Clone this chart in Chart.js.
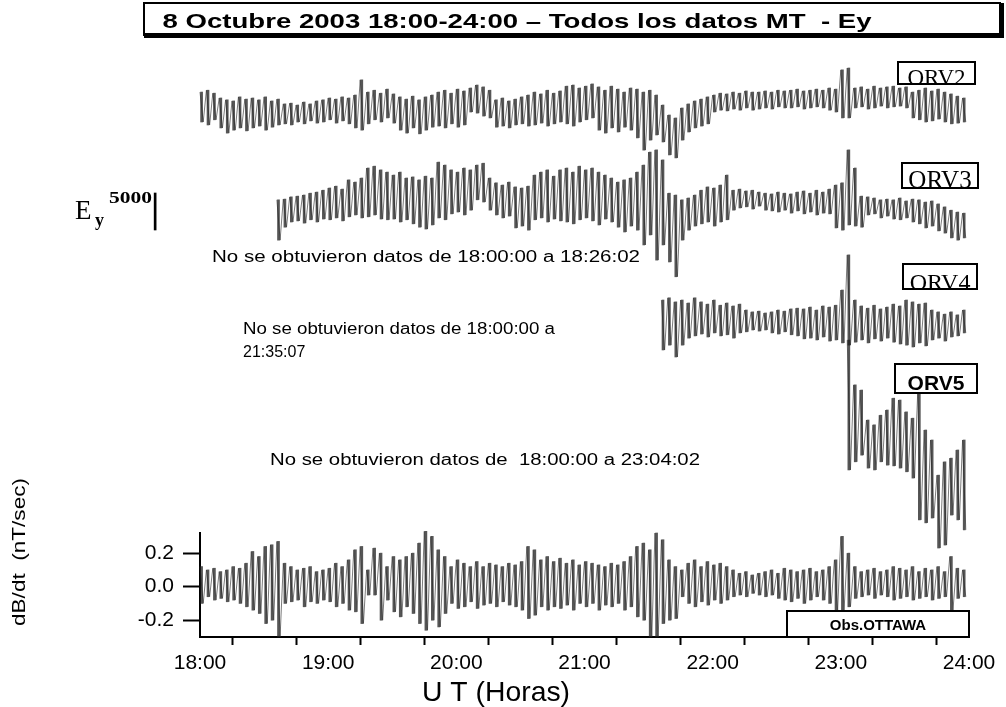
<!DOCTYPE html>
<html>
<head>
<meta charset="utf-8">
<script src="https://cdn.jsdelivr.net/npm/chart.js@4.4.1/dist/chart.umd.min.js"></script>
<style>
  body { margin: 0; background: #fff; }
  canvas { display: block; }
</style>
</head>
<body>
<canvas id="grafik" width="1006" height="707"></canvas>
<script>
// Datos: envolvente (maximo / minimo) cada 3 minutos desde las 18:00
const binHours = 0.05;
const hourTicks = [18, 18.5, 19, 19.5, 20, 20.5, 21, 21.5, 22, 22.5, 23, 23.5, 24];
const dbdtTicks = [-0.2, 0, 0.2];
const stations = ["ORV2", "ORV3", "ORV4", "ORV5"];
const startBin = { ORV2: 0, ORV3: 12, ORV4: 72, ORV5: 101, dbdt: 0 };

// Ey (mV/km)
const orv2Hi = [1750,2000,1600,950,700,550,1100,800,950,700,
  1100,550,800,150,250,0,400,150,550,700,
  950,800,1100,950,1350,3400,1750,2000,1600,2150,
  1500,1100,800,1200,700,1100,1350,1750,2000,1600,
  2150,1900,2300,2700,2450,2000,700,950,550,800,
  1100,1350,1750,1500,2000,1600,1900,2550,2700,2300,
  2550,2850,2450,2000,2550,2150,1750,2300,2150,1750,
  2000,1350,0,-1350,-1750,-400,150,550,800,1100,
  1350,1600,1500,1750,1600,1900,1750,1750,1900,1750,
  2000,1900,2000,2150,1900,2000,2150,2000,2300,2150,
  4750,5000,2300,2450,2150,2550,2300,2450,2550,2300,
  2450,1750,2000,2300,1900,2150,1750,1500,1200,950];
const orv2Lo = [-2300,-2700,-2000,-3100,-3800,-3400,-3100,-3500,-3100,-2850,
  -3400,-3000,-2700,-2550,-2700,-2300,-2550,-2150,-2450,-2300,
  -2000,-2450,-2150,-2550,-3100,-3400,-2550,-2000,-2300,-1750,
  -2450,-3400,-3800,-3100,-3900,-3400,-3000,-2850,-3100,-2550,
  -3000,-2700,-950,-1100,-1500,-1750,-3000,-2850,-3100,-2700,
  -2550,-2850,-2700,-2450,-2850,-2550,-2300,-2550,-2850,-2300,
  -2000,-1750,-3400,-3800,-3100,-3650,-3000,-3400,-4450,-6100,
  -4750,-4050,-5000,-6750,-7150,-4750,-3650,-3100,-2850,-2550,
  -950,-700,-800,-550,-700,-400,-700,-550,-400,-550,
  -250,-400,-400,-250,-550,-400,-250,-400,-700,-950,
  -1750,-1750,-400,-250,-550,-400,-150,-400,-250,-150,
  -400,-1750,-2000,-2300,-2150,-1900,-2300,-2550,-2450,-2300];

const orv3Hi = [700,800,1100,1200,1350,1600,1750,2000,2300,2550,
  2150,3400,3100,3650,5000,5250,4750,4450,4050,4450,
  3650,3800,3400,3900,3650,5800,5400,4750,4450,5000,
  4750,5400,5650,3650,3000,2700,3100,2450,2300,2550,
  4050,4450,4750,3900,4750,5000,4450,5250,4750,5000,
  4450,4050,3650,3100,3400,3650,4450,5400,7150,7450,
  6100,1600,1350,700,950,1350,2000,2450,2300,2700,
  4050,2000,2150,1900,2000,1750,1600,1500,1750,1600,
  1500,1750,1900,1600,2000,1750,2150,2700,3000,7450,
  5000,1200,1100,950,700,800,700,950,550,800,
  700,400,550,150,-250,-700,-950,-1100];
const orv3Lo = [-4750,-3000,-2300,-2150,-2450,-2000,-2300,-1900,-2000,-1750,
  -2150,-1600,-1350,-1750,-1600,-1350,-1900,-2000,-1900,-2300,
  -2000,-2550,-3000,-3250,-2700,-1750,-2000,-1200,-950,-1350,
  -700,700,400,-700,-1350,-1750,-1500,-3100,-2850,-3400,
  -2000,-1750,-2300,-1900,-2150,-2300,-2550,-2000,-1750,-2150,
  -2700,-1900,-2300,-3000,-3650,-2850,-3400,-5400,-4050,-7450,
  -5400,-7700,-9700,-4750,-3400,-2850,-2550,-2300,-2850,-2300,
  -2000,-700,-400,-250,-550,-150,-700,-800,-950,-700,
  -1100,-800,-1200,-950,-1350,-1100,-1200,-3100,-3400,-2700,
  -2850,-3000,-1350,-1200,-1750,-1500,-1900,-2000,-1750,-2300,
  -2550,-3100,-2850,-3500,-3800,-4450,-4750,-4450];

const orv4Hi = [2700,3000,2450,2700,2300,3000,2450,2150,2700,2000,
  2300,1900,2150,1350,1100,1200,950,1100,1350,1200,
  1500,1600,1500,1750,1350,1900,1750,2000,4050,8800,
  2700,1900,1600,2000,1500,1750,2150,1900,2700,2450,
  2150,2300,1350,1100,800,1100,700,1350];
const orv4Lo = [-4050,-3400,-5000,-3400,-2450,-2150,-1900,-2300,-1750,-2150,
  -2000,-2450,-1750,-1600,-1350,-1500,-1350,-1750,-1900,-1600,
  -2000,-2150,-2550,-2450,-2700,-2300,-2850,-2700,-3100,-3400,
  -3000,-2700,-3100,-2550,-2850,-2450,-3000,-3250,-3400,-3650,
  -3100,-3500,-2700,-2450,-2850,-2300,-2150,-1750];

const orv5Hi = [12150,6100,5400,1350,700,2000,2700,4300,4050,2450,
  1600,5150,0,-1350,-6100,-4300,-3800,-2700,-1350];
const orv5Lo = [-5400,-4300,-3400,-5150,-5400,-4300,-4750,-4850,-5150,-5650,
  -6500,-12150,-12550,-11900,-15950,-15550,-11500,-12150,-13500];

// dB/dt Obs. Ottawa (nT/sec)
const dbdtHi = [0.12,0.10,0.11,0.09,0.10,0.12,0.11,0.14,0.21,0.18,
  0.24,0.25,0.27,0.14,0.12,0.10,0.11,0.12,0.09,0.10,
  0.11,0.14,0.12,0.16,0.22,0.24,0.10,0.23,0.20,0.12,
  0.18,0.16,0.18,0.20,0.26,0.33,0.30,0.22,0.18,0.12,
  0.16,0.14,0.12,0.15,0.12,0.14,0.13,0.12,0.14,0.13,
  0.15,0.24,0.22,0.16,0.18,0.15,0.17,0.14,0.16,0.13,
  0.15,0.14,0.13,0.12,0.14,0.13,0.15,0.18,0.24,0.26,
  0.22,0.32,0.28,0.16,0.12,0.10,0.14,0.16,0.12,0.15,
  0.13,0.14,0.12,0.10,0.08,0.09,0.07,0.08,0.09,0.10,
  0.08,0.11,0.10,0.09,0.10,0.11,0.09,0.10,0.12,0.16,
  0.30,0.20,0.12,0.09,0.10,0.11,0.09,0.10,0.12,0.11,
  0.10,0.12,0.09,0.11,0.10,0.12,0.09,0.18,0.11,0.10];
const dbdtLo = [-0.10,-0.06,-0.08,-0.07,-0.09,-0.08,-0.10,-0.12,-0.14,-0.16,
  -0.22,-0.20,-0.30,-0.10,-0.09,-0.08,-0.12,-0.09,-0.10,-0.08,
  -0.09,-0.12,-0.10,-0.14,-0.15,-0.22,-0.05,-0.05,-0.20,-0.08,
  -0.15,-0.18,-0.12,-0.16,-0.22,-0.26,-0.20,-0.24,-0.16,-0.10,
  -0.13,-0.12,-0.09,-0.13,-0.11,-0.10,-0.12,-0.09,-0.11,-0.12,
  -0.14,-0.19,-0.17,-0.12,-0.14,-0.12,-0.13,-0.11,-0.14,-0.10,
  -0.12,-0.10,-0.14,-0.11,-0.12,-0.10,-0.14,-0.12,-0.18,-0.20,
  -0.30,-0.30,-0.22,-0.20,-0.19,-0.06,-0.10,-0.12,-0.09,-0.11,
  -0.08,-0.10,-0.08,-0.06,-0.05,-0.06,-0.04,-0.05,-0.06,-0.05,
  -0.07,-0.08,-0.09,-0.07,-0.10,-0.08,-0.06,-0.08,-0.10,-0.14,
  -0.14,-0.12,-0.07,-0.06,-0.05,-0.07,-0.05,-0.06,-0.08,-0.07,
  -0.06,-0.08,-0.07,-0.06,-0.08,-0.07,-0.06,-0.14,-0.07,-0.06];

const scaleBarValue = 5000;

// Geometria del panel inferior (pixeles)
const AREA_TOP = 533;
const AREA_BOTTOM = 637;
const EY_PER_PX = scaleBarValue / 37;
const lineColor = "rgba(35,35,35,0.6)";
const bandColor = "rgba(30,30,30,0.75)";

// Ejes ocultos para Ey: valor 0 en la linea base (px) de cada estacion
function eyAxis(basePx) {
  return {
    display: false,
    min: (basePx - AREA_BOTTOM) * EY_PER_PX,
    max: (basePx - AREA_TOP) * EY_PER_PX,
  };
}

// Zig-zag entre maximo y minimo de cada intervalo
function envelope(start, hi, lo) {
  const pts = [];
  hi.forEach((h, k) => {
    const t = 18 + (start + k) * binHours;
    pts.push({ x: t, y: h });
    pts.push({ x: t + binHours / 2, y: lo[k] });
  });
  return pts;
}

// Trazo vertical (barra flotante) por intervalo
function band(start, hi, lo) {
  return hi.map((h, k) => ({ x: 18 + (start + k + 0.25) * binHours, y: [lo[k], h] }));
}

function traceSets(label, axis, start, hi, lo) {
  return [
    {
      label: label,
      data: envelope(start, hi, lo),
      yAxisID: axis,
      borderColor: lineColor,
      borderWidth: 1,
      pointRadius: 0,
      clip: false,
      order: 0,
    },
    {
      type: "bar",
      label: label + " banda",
      data: band(start, hi, lo),
      yAxisID: axis,
      backgroundColor: bandColor,
      barThickness: 2,
      grouped: false,
      clip: false,
      order: 1,
    },
  ];
}

const series = {
  ORV2: [orv2Hi, orv2Lo],
  ORV3: [orv3Hi, orv3Lo],
  ORV4: [orv4Hi, orv4Lo],
  ORV5: [orv5Hi, orv5Lo],
};

const datasets = [];
stations.forEach(name => {
  datasets.push(...traceSets(name, "y" + name, startBin[name], series[name][0], series[name][1]));
});
datasets.push(...traceSets("dB/dt", "y", startBin.dbdt, dbdtHi, dbdtLo));

// Barra de escala Ey 5000
datasets.push({
  type: "bar",
  label: "escala",
  data: [{ x: 17.65, y: [0, scaleBarValue] }],
  yAxisID: "yBar",
  backgroundColor: "#000",
  barThickness: 2,
  grouped: false,
  clip: false,
  order: 0,
});

function put(c, text, x, y, font, width, align) {
  c.save();
  c.font = font;
  const w = c.measureText(text).width;
  c.translate(x, y);
  if (width) c.scale(width / w, 1);
  c.textAlign = align || "left";
  c.textBaseline = "alphabetic";
  c.fillStyle = "#000";
  c.fillText(text, 0, 0);
  c.restore();
}

function labelBox(c, text, x, y, w, h, font, baseY) {
  c.save();
  c.fillStyle = "#fff";
  c.fillRect(x, y, w, h);
  c.beginPath();
  c.rect(x, y, w, h);
  c.clip();
  put(c, text, x + w / 2, baseY, font, null, "center");
  c.restore();
  c.lineWidth = 2;
  c.strokeStyle = "#000";
  c.strokeRect(x, y, w, h);
}

const overlay = {
  id: "overlay",
  afterDraw(chart) {
    const c = chart.ctx;
    const sans = '"Liberation Sans", Arial, sans-serif';
    const serif = '"Liberation Serif", "Times New Roman", serif';

    // Titulo
    c.save();
    c.lineWidth = 2;
    c.strokeStyle = "#000";
    c.strokeRect(144, 3, 856, 32);
    c.fillStyle = "#000";
    c.fillRect(144, 33, 860, 5);
    c.fillRect(999, 3, 5, 35);
    c.restore();
    put(c, "8 Octubre 2003 18:00-24:00 \u2013 Todos los datos MT  - Ey", 517, 28, "bold 21px " + sans, 709, "center");

    // Etiquetas de estaciones
    labelBox(c, "ORV2", 898, 62, 77, 22, "23px " + serif, 85);
    labelBox(c, "ORV3", 902, 163, 76, 25, "25px " + serif, 188);
    labelBox(c, "ORV4", 903, 264, 74, 25, "24px " + serif, 290);
    labelBox(c, "ORV5", 895, 364, 82, 29, "bold 21px " + sans, 390);
    labelBox(c, "Obs.OTTAWA", 787, 611, 182, 26, "bold 15px " + sans, 630);

    // Escala Ey
    put(c, "E", 75, 219, "27px " + serif);
    put(c, "y", 95, 226, "bold 18px " + serif);
    put(c, "5000", 109, 203, "bold 17px " + serif, 43);

    // Avisos de datos faltantes
    put(c, "No se obtuvieron datos de 18:00:00 a 18:26:02", 212, 262, "16px " + sans, 428);
    put(c, "No se obtuvieron datos de 18:00:00 a", 243, 334, "16px " + sans, 312);
    put(c, "21:35:07", 243, 357, "16px " + sans);
    put(c, "No se obtuvieron datos de  18:00:00 a 23:04:02", 270, 465, "16px " + sans, 430);

    // Titulos de ejes
    put(c, "U T (Horas)", 496, 701, "28px " + sans, 148, "center");
    c.save();
    c.translate(25, 552);
    c.rotate(-Math.PI / 2);
    put(c, "dB/dt  (nT/sec)", 0, 0, "19px " + sans, 148, "center");
    c.restore();
  },
};

Chart.defaults.font.family = '"Liberation Sans", Arial, sans-serif';
Chart.defaults.color = "#000";

const scales = {
  x: {
    type: "linear",
    min: 18,
    max: 24,
    offset: false,
    afterBuildTicks: s => { s.ticks = hourTicks.map(v => ({ value: v })); },
    afterFit: s => { s.height = 707 - AREA_BOTTOM; },
    ticks: {
      autoSkip: false,
      maxRotation: 0,
      padding: 6,
      font: { size: 21 },
      callback: v => (Number.isInteger(v) ? v + ":00" : ""),
    },
    grid: { drawOnChartArea: false, drawTicks: true, tickLength: 8, tickColor: "#000", tickWidth: 2 },
    border: { display: true, color: "#000", width: 2 },
  },
  y: {
    min: -0.3,
    max: 0.32,
    afterBuildTicks: s => { s.ticks = dbdtTicks.map(v => ({ value: v })); },
    afterFit: s => { s.width = 200; },
    ticks: { padding: 9, font: { size: 21 }, callback: v => v.toFixed(1) },
    grid: { drawOnChartArea: false, drawTicks: true, tickLength: 17, tickColor: "#000", tickWidth: 2 },
    border: { display: true, color: "#000", width: 2 },
  },
  yORV2: eyAxis(105),
  yORV3: eyAxis(205),
  yORV4: eyAxis(320),
  yORV5: eyAxis(430),
  yBar: eyAxis(230),
};

new Chart(document.getElementById("grafik").getContext("2d"), {
  type: "line",
  data: { datasets },
  options: {
    responsive: false,
    animation: false,
    devicePixelRatio: 1,
    layout: { padding: { top: AREA_TOP, right: 37, bottom: 0, left: 0 } },
    plugins: { legend: { display: false }, tooltip: { enabled: false } },
    elements: { line: { tension: 0 } },
    scales,
  },
  plugins: [overlay],
});
</script>
</body>
</html>
